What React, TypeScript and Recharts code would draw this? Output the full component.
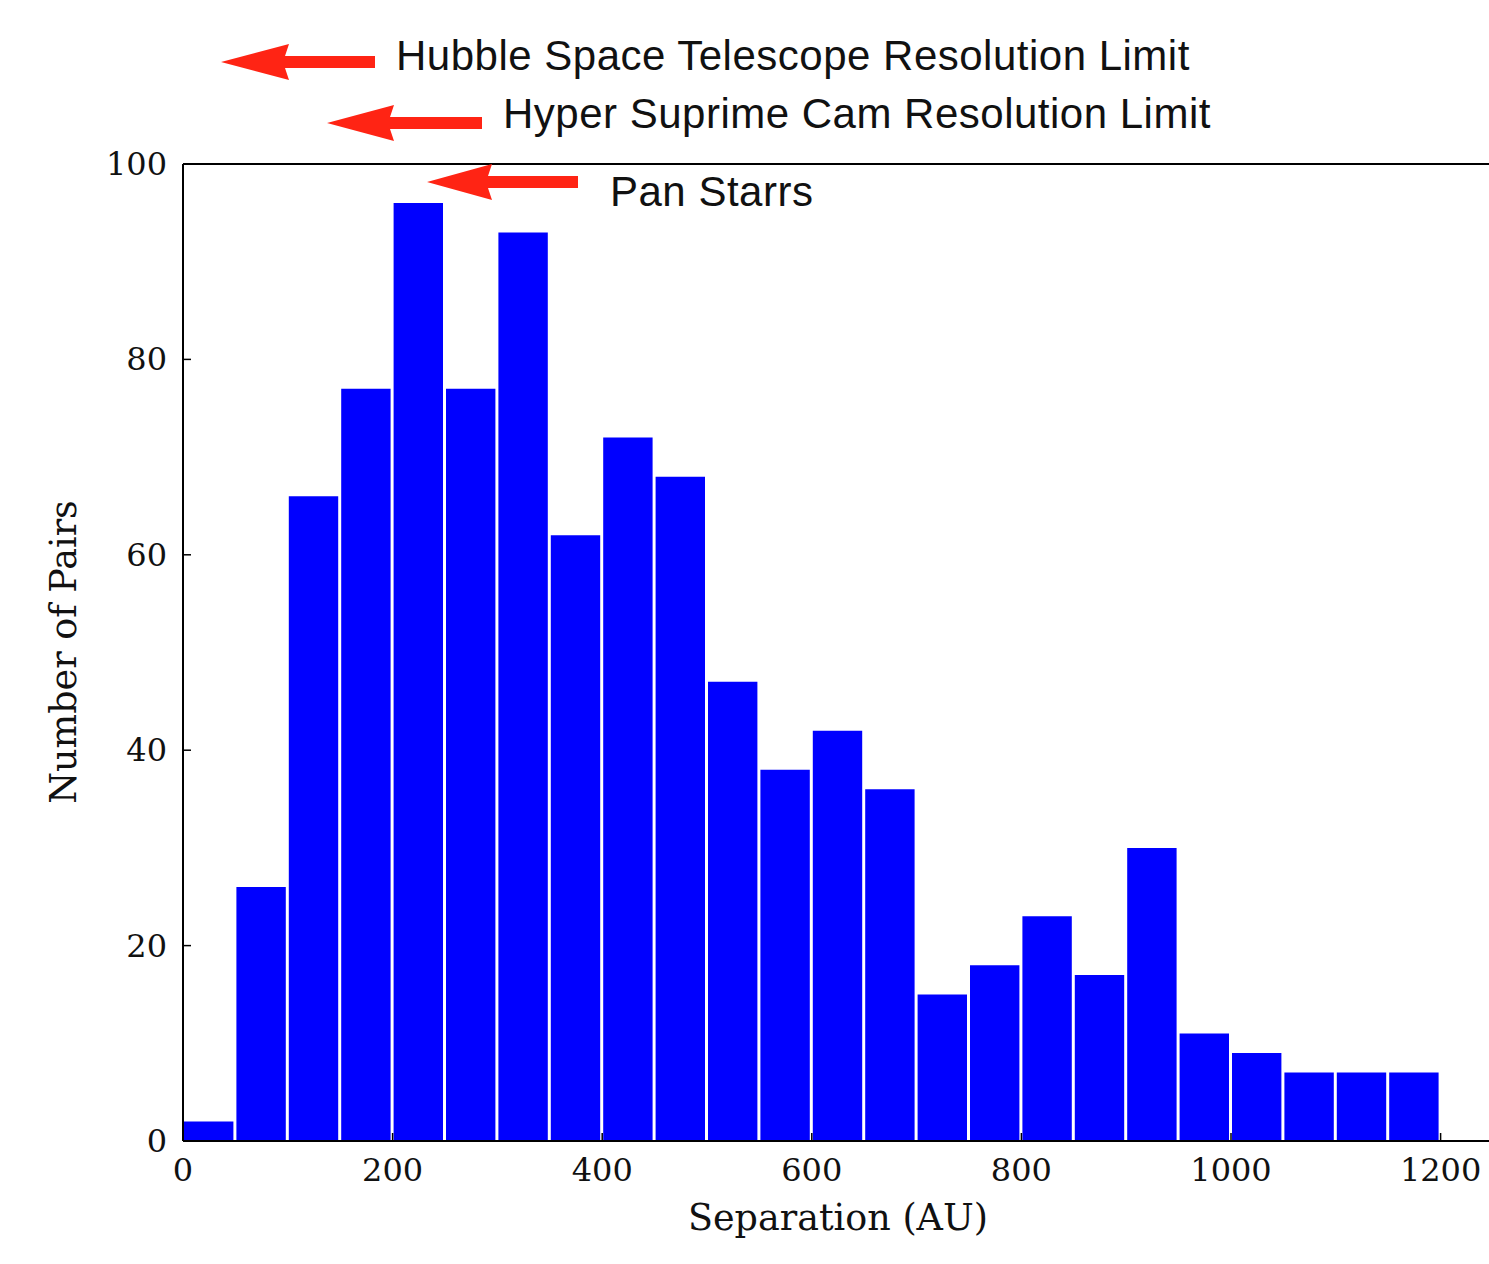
import React from "react"
import { Bar, BarChart, ReferenceLine, XAxis, YAxis } from "recharts"

// histogram bins, 50 AU wide
const binStart = [0, 50, 100, 150, 200, 250, 300, 350, 400, 450, 500, 550, 600, 650, 700, 750, 800, 850, 900, 950, 1000, 1050, 1100, 1150]
const pairCounts = [2, 26, 66, 77, 96, 77, 93, 62, 72, 68, 47, 38, 42, 36, 15, 18, 23, 17, 30, 11, 9, 7, 7, 7]
const xTicks = [0, 200, 400, 600, 800, 1000, 1200]
const yTicks = [0, 20, 40, 60, 80, 100]

const BIN = 50
const X_MAX = 1250
const Y_MAX = 100

const W = 1500
const H = 1264
const LEFT = 183
const TOP = 164
const BOTTOM = 123
const RIGHT = 7
const plotW = W - LEFT - RIGHT
const plotBottom = H - BOTTOM

const data = binStart.map((s, i) => ({ mid: s + BIN / 2, count: pairCounts[i] }))

const serif = "'DejaVu Serif', serif"
const sans = "'Liberation Sans', Arial, sans-serif"

const XTick = (props: any) => {
  const { x, payload } = props
  return (
    <g>
      <line x1={x} x2={x} y1={plotBottom} y2={plotBottom - 8} stroke="#000" strokeWidth={1.5} />
      <text x={x} y={plotBottom + 40} textAnchor="middle" fontFamily={serif} fontSize={32} fill="#111">
        {payload.value}
      </text>
    </g>
  )
}

const YTick = (props: any) => {
  const { y, payload } = props
  return (
    <g>
      <line x1={LEFT} x2={LEFT + 8} y1={y} y2={y} stroke="#000" strokeWidth={1.5} />
      <text x={LEFT - 16} y={y + 11} textAnchor="end" fontFamily={serif} fontSize={32} fill="#111">
        {payload.value}
      </text>
    </g>
  )
}

// red arrows pointing at the resolution limits
const arrows = [
  { tip: 221, y: 62, back: 285, tail: 375, label: "Hubble Space Telescope Resolution Limit", tx: 396, ty: 70 },
  { tip: 327, y: 123, back: 390, tail: 482, label: "Hyper Suprime Cam Resolution Limit", tx: 503, ty: 128 },
  { tip: 427, y: 182, back: 488, tail: 578, label: "Pan Starrs", tx: 610, ty: 206 },
]

const Arrow = ({ tip, y, back, tail }: { tip: number; y: number; back: number; tail: number }) => {
  const hh = 18
  const sh = 6
  const pts = [
    [tip, y],
    [back + 4, y - hh],
    [back, y - sh],
    [tail, y - sh],
    [tail, y + sh],
    [back, y + sh],
    [back + 4, y + hh],
  ]
  return <polygon points={pts.map((p) => p.join(",")).join(" ")} fill="#ff2414" />
}

export default function App() {
  const barSize = (plotW / X_MAX) * BIN - 3
  return (
    <div style={{ position: "absolute", left: 0, top: 0, width: W, height: H, background: "#fff" }}>
      <BarChart width={W} height={H} data={data} margin={{ top: TOP, right: RIGHT, bottom: 0, left: 0 }}>
        <XAxis
          type="number"
          dataKey="mid"
          domain={[0, X_MAX]}
          ticks={xTicks}
          allowDataOverflow
          height={BOTTOM}
          tickLine={false}
          tick={<XTick />}
          axisLine={{ stroke: "#000", strokeWidth: 2 }}
        />
        <YAxis
          type="number"
          domain={[0, Y_MAX]}
          ticks={yTicks}
          width={LEFT}
          tickLine={false}
          tick={<YTick />}
          axisLine={{ stroke: "#000", strokeWidth: 2 }}
        />
        <Bar dataKey="count" fill="#0000ff" barSize={barSize} isAnimationActive={false} />
        <ReferenceLine y={Y_MAX} stroke="#000" strokeWidth={2} />
        <ReferenceLine x={X_MAX} stroke="#000" strokeWidth={2} />
      </BarChart>
      <svg width={W} height={H} style={{ position: "absolute", left: 0, top: 0, pointerEvents: "none" }}>
        <text x={838} y={1230} textAnchor="middle" fontFamily={serif} fontSize={36.5} fill="#111">
          Separation (AU)
        </text>
        <text
          x={76}
          y={652}
          textAnchor="middle"
          fontFamily={serif}
          fontSize={36.5}
          fill="#111"
          transform="rotate(-90 76 652)"
        >
          Number of Pairs
        </text>
        {arrows.map((a) => (
          <g key={a.label}>
            <Arrow tip={a.tip} y={a.y} back={a.back} tail={a.tail} />
            <text x={a.tx} y={a.ty} fontFamily={sans} fontSize={42} letterSpacing={0.5} fill="#111">
              {a.label}
            </text>
          </g>
        ))}
      </svg>
    </div>
  )
}
